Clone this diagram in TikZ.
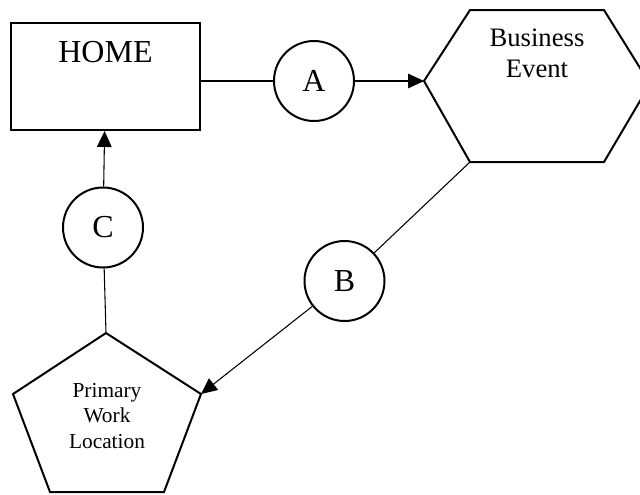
\documentclass[tikz,border=0pt]{standalone}
\usepackage{fontspec}
\setmainfont{Liberation Serif}
\usetikzlibrary{arrows.meta}

\tikzset{
  stop/.style={circle, draw, line width=1.5pt, minimum size=60pt, inner sep=0pt, font=\fontsize{24}{28}\selectfont},
  place/.style={draw, line width=1.5pt, line join=miter},
  link/.style={line width=0.8pt},
  go/.style={link, -{Triangle[length=12pt,width=11pt]}}
}

\begin{document}
\begin{tikzpicture}[x=0.75pt, y=-0.75pt]
  \useasboundingbox (0,0) rectangle (640,494);
  \node[place, rectangle, minimum width=141.75pt, minimum height=80.25pt] (home) at (105.5,76.5) {};
  \node[font=\fontsize{24}{28}\selectfont] (homelabel) at (105.5,52.5) {HOME};
  \draw[place] (424,81) coordinate (evW) -- (470,10) -- (604,10) -- (650,84) -- (604,162) -- (470,162) coordinate (evSW) -- cycle;
  \node[align=center, font=\fontsize{20}{23.5}\selectfont] (eventlabel) at (537,53) {Business\\Event};
  \draw[place] (106,333) coordinate (workN) -- (201,394) coordinate (workE) -- (164,492) -- (50,492) -- (13,394) -- cycle;
  \node[align=center, font=\fontsize{16}{19}\selectfont] (worklabel) at (107,416) {Primary\\Work\\Location};
  \node[stop] (a) at (314,81) {A};
  \node[stop] (b) at (344.5,281) {B};
  \node[stop] (c) at (103,227.5) {C};
  \draw[link] (a -| home.east) -- (a);
  \draw[go] (a) -- (evW);
  \draw[link] (evSW) -- (b);
  \draw[go] (b) -- (workE);
  \draw[link] (workN) -- (c);
  \draw[go] (c) -- (home);
\end{tikzpicture}
\end{document}
